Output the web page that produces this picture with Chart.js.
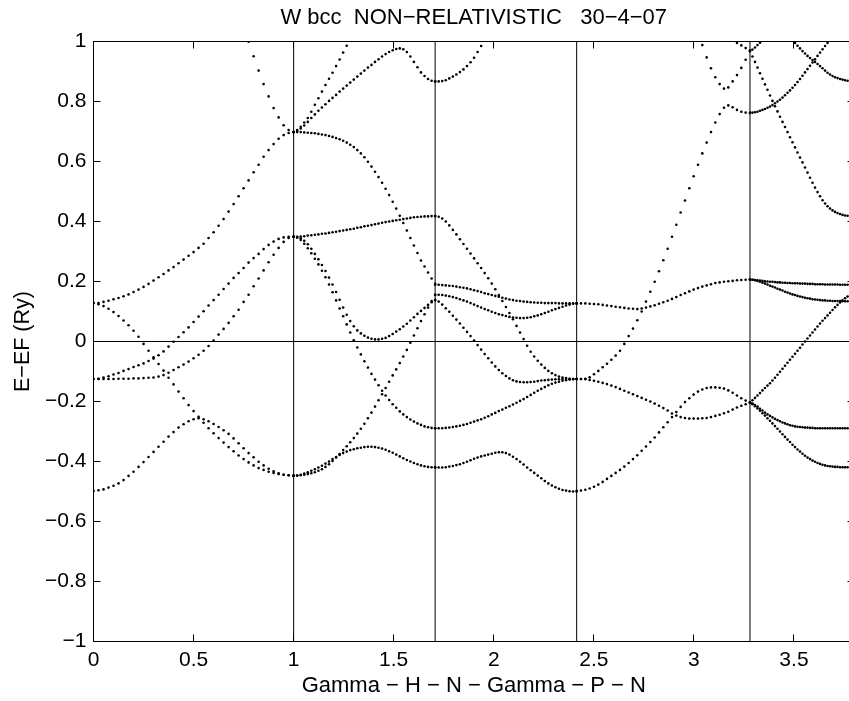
<!DOCTYPE html>
<html>
<head>
<meta charset="utf-8">
<title>W bcc band structure</title>
<script src="https://cdn.jsdelivr.net/npm/chart.js@4.4.1/dist/chart.umd.min.js"></script>
<style>
  html, body { margin: 0; padding: 0; background: #fff; overflow: hidden; }
  /* the axes box runs a few pixels past the right edge, as in the original figure */
  #wrap { width: 849px; height: 701px; overflow: hidden; }
</style>
</head>
<body>
<div id="wrap"><canvas id="bandChart" width="855" height="701"></canvas></div>
<script>
// Path through the bcc zone: Gamma - H - N - Gamma - P - N (k in units of 2pi/a)
const symLabels = ["Gamma", "H", "N", "Gamma", "P", "N"];
const symPoints = [0, 1, 1.70711, 2.41421, 3.28024, 3.78024];
const kSteps = 40; // 41 k-points on each segment
const xMax = 3.8;

const xTicks = [0, 0.5, 1, 1.5, 2, 2.5, 3, 3.5];
const yTicks = [-1, -0.8, -0.6, -0.4, -0.2, 0, 0.2, 0.4, 0.6, 0.8, 1];

const chartTitle = "W bcc  NON\u2212RELATIVISTIC   30\u22124\u221207";
const xTitle = "Gamma \u2212 H \u2212 N \u2212 Gamma \u2212 P \u2212 N";
const yTitle = "E\u2212EF (Ry)";

// E - EF (Ry), one row per band, null = off the top
const bandsGH = [
  [-0.498, -0.496, -0.493, -0.487, -0.481, -0.473, -0.462, -0.448, -0.434, -0.418, -0.402, -0.385, -0.368, -0.351, -0.334, -0.317, -0.302, -0.287, -0.276, -0.266, -0.259, -0.256, -0.259, -0.266, -0.275, -0.285, -0.296, -0.308, -0.323, -0.339, -0.356, -0.372, -0.386, -0.401, -0.413, -0.424, -0.433, -0.439, -0.444, -0.446, -0.447],
  [0.128, 0.124, 0.118, 0.109, 0.098, 0.085, 0.070, 0.054, 0.036, 0.016, -0.008, -0.031, -0.053, -0.075, -0.097, -0.121, -0.143, -0.167, -0.189, -0.212, -0.232, -0.251, -0.271, -0.289, -0.306, -0.322, -0.337, -0.352, -0.366, -0.380, -0.392, -0.403, -0.413, -0.422, -0.428, -0.434, -0.438, -0.442, -0.444, -0.446, -0.447],
  [-0.125, -0.125, -0.125, -0.125, -0.125, -0.124, -0.124, -0.124, -0.123, -0.123, -0.122, -0.121, -0.120, -0.117, -0.112, -0.104, -0.095, -0.086, -0.077, -0.067, -0.056, -0.044, -0.031, -0.015, 0.003, 0.023, 0.042, 0.062, 0.084, 0.106, 0.132, 0.156, 0.184, 0.210, 0.237, 0.264, 0.289, 0.312, 0.332, 0.345, 0.349],
  [-0.125, -0.124, -0.120, -0.116, -0.110, -0.105, -0.098, -0.092, -0.085, -0.079, -0.073, -0.065, -0.057, -0.046, -0.033, -0.017, -0.001, 0.015, 0.031, 0.047, 0.065, 0.083, 0.101, 0.120, 0.138, 0.156, 0.175, 0.193, 0.212, 0.228, 0.245, 0.263, 0.278, 0.292, 0.308, 0.322, 0.333, 0.342, 0.347, 0.349, 0.349],
  [0.128, 0.128, 0.132, 0.136, 0.141, 0.145, 0.151, 0.157, 0.165, 0.173, 0.182, 0.192, 0.203, 0.214, 0.225, 0.237, 0.248, 0.261, 0.273, 0.286, 0.298, 0.312, 0.326, 0.345, 0.364, 0.386, 0.408, 0.433, 0.458, 0.484, 0.511, 0.537, 0.564, 0.589, 0.616, 0.638, 0.658, 0.676, 0.688, 0.695, 0.698],
  [null, null, null, null, null, null, null, null, null, null, null, null, null, null, null, null, null, null, null, null, null, null, null, null, null, null, null, null, null, null, null, 0.999, 0.951, 0.903, 0.858, 0.817, 0.778, 0.747, 0.721, 0.705, 0.698]
];

const bandsHN = [
  [0.349, 0.349, 0.350, 0.351, 0.353, 0.354, 0.356, 0.357, 0.359, 0.360, 0.362, 0.364, 0.366, 0.368, 0.370, 0.372, 0.374, 0.376, 0.379, 0.381, 0.384, 0.386, 0.388, 0.391, 0.393, 0.396, 0.398, 0.400, 0.402, 0.404, 0.406, 0.408, 0.410, 0.412, 0.414, 0.415, 0.416, 0.417, 0.417, 0.418, 0.418],
  [0.349, 0.348, 0.344, 0.336, 0.324, 0.309, 0.292, 0.274, 0.255, 0.235, 0.213, 0.190, 0.165, 0.139, 0.113, 0.089, 0.068, 0.051, 0.037, 0.027, 0.019, 0.013, 0.009, 0.007, 0.007, 0.009, 0.012, 0.018, 0.025, 0.033, 0.041, 0.050, 0.059, 0.070, 0.081, 0.092, 0.102, 0.112, 0.122, 0.131, 0.138],
  [0.349, 0.346, 0.338, 0.326, 0.311, 0.294, 0.276, 0.257, 0.236, 0.214, 0.190, 0.164, 0.137, 0.110, 0.084, 0.057, 0.030, 0.004, -0.020, -0.043, -0.066, -0.087, -0.108, -0.127, -0.146, -0.164, -0.180, -0.195, -0.209, -0.221, -0.233, -0.243, -0.252, -0.260, -0.267, -0.273, -0.278, -0.283, -0.286, -0.288, -0.289],
  [-0.448, -0.447, -0.446, -0.444, -0.442, -0.439, -0.436, -0.431, -0.426, -0.418, -0.409, -0.398, -0.387, -0.375, -0.362, -0.349, -0.336, -0.322, -0.307, -0.291, -0.274, -0.256, -0.237, -0.217, -0.196, -0.176, -0.155, -0.134, -0.113, -0.093, -0.072, -0.050, -0.028, -0.004, 0.020, 0.044, 0.068, 0.091, 0.113, 0.135, 0.155],
  [-0.448, -0.447, -0.444, -0.440, -0.436, -0.431, -0.426, -0.420, -0.414, -0.407, -0.400, -0.392, -0.385, -0.378, -0.372, -0.367, -0.362, -0.359, -0.356, -0.354, -0.352, -0.351, -0.351, -0.352, -0.354, -0.357, -0.361, -0.366, -0.371, -0.377, -0.383, -0.389, -0.395, -0.400, -0.405, -0.409, -0.413, -0.416, -0.418, -0.419, -0.419],
  [0.698, 0.698, 0.698, 0.697, 0.696, 0.695, 0.694, 0.692, 0.690, 0.688, 0.685, 0.682, 0.678, 0.674, 0.669, 0.663, 0.656, 0.648, 0.638, 0.627, 0.614, 0.599, 0.583, 0.566, 0.548, 0.529, 0.509, 0.488, 0.466, 0.443, 0.419, 0.395, 0.370, 0.345, 0.320, 0.295, 0.270, 0.250, 0.230, 0.210, 0.192],
  [0.698, 0.702, 0.710, 0.720, 0.732, 0.745, 0.757, 0.769, 0.780, 0.791, 0.802, 0.812, 0.822, 0.833, 0.843, 0.853, 0.863, 0.873, 0.883, 0.893, 0.903, 0.913, 0.922, 0.932, 0.941, 0.950, 0.958, 0.965, 0.971, 0.975, 0.977, 0.974, 0.965, 0.950, 0.932, 0.914, 0.897, 0.885, 0.875, 0.869, 0.867],
  [0.698, 0.705, 0.716, 0.730, 0.745, 0.766, 0.789, 0.811, 0.833, 0.855, 0.876, 0.896, 0.918, 0.940, 0.963, 0.986]
];

const bandsNG = [
  [0.189, 0.189, 0.188, 0.187, 0.186, 0.185, 0.183, 0.181, 0.179, 0.177, 0.174, 0.171, 0.168, 0.165, 0.161, 0.158, 0.155, 0.152, 0.149, 0.146, 0.143, 0.140, 0.138, 0.136, 0.135, 0.133, 0.132, 0.131, 0.130, 0.129, 0.129, 0.128, 0.128, 0.128, 0.128, 0.127, 0.127, 0.127, 0.127, 0.127, 0.127],
  [0.156, 0.156, 0.155, 0.153, 0.151, 0.148, 0.145, 0.141, 0.137, 0.133, 0.128, 0.123, 0.118, 0.113, 0.108, 0.104, 0.099, 0.095, 0.091, 0.088, 0.085, 0.082, 0.080, 0.079, 0.078, 0.078, 0.079, 0.081, 0.084, 0.087, 0.091, 0.095, 0.099, 0.104, 0.108, 0.112, 0.116, 0.120, 0.123, 0.126, 0.127],
  [0.138, 0.133, 0.123, 0.111, 0.099, 0.086, 0.073, 0.060, 0.046, 0.032, 0.018, 0.003, -0.012, -0.027, -0.042, -0.056, -0.070, -0.083, -0.095, -0.106, -0.115, -0.123, -0.129, -0.133, -0.135, -0.136, -0.136, -0.135, -0.134, -0.132, -0.130, -0.129, -0.128, -0.127, -0.126, -0.126, -0.125, -0.125, -0.125, -0.125, -0.125],
  [0.418, 0.416, 0.410, 0.400, 0.387, 0.372, 0.357, 0.341, 0.325, 0.309, 0.293, 0.277, 0.261, 0.245, 0.228, 0.211, 0.193, 0.174, 0.155, 0.135, 0.115, 0.095, 0.074, 0.052, 0.030, 0.008, -0.014, -0.034, -0.050, -0.064, -0.077, -0.088, -0.098, -0.106, -0.112, -0.117, -0.120, -0.122, -0.124, -0.125, -0.125],
  [-0.289, -0.289, -0.289, -0.288, -0.287, -0.285, -0.283, -0.281, -0.278, -0.275, -0.271, -0.267, -0.263, -0.259, -0.254, -0.249, -0.243, -0.238, -0.232, -0.227, -0.221, -0.216, -0.210, -0.204, -0.198, -0.192, -0.185, -0.178, -0.171, -0.164, -0.158, -0.152, -0.146, -0.141, -0.137, -0.134, -0.131, -0.129, -0.127, -0.126, -0.125],
  [-0.420, -0.420, -0.420, -0.419, -0.417, -0.415, -0.412, -0.409, -0.405, -0.401, -0.396, -0.391, -0.387, -0.383, -0.380, -0.377, -0.374, -0.371, -0.369, -0.369, -0.372, -0.377, -0.384, -0.392, -0.401, -0.410, -0.420, -0.429, -0.438, -0.447, -0.456, -0.465, -0.473, -0.480, -0.486, -0.491, -0.495, -0.497, -0.499, -0.500, -0.500],
  [0.867, 0.867, 0.868, 0.871, 0.877, 0.883, 0.890, 0.898, 0.907, 0.918, 0.931, 0.946, 0.965, 0.985]
];

const bandsGP = [
  [0.127, 0.127, 0.127, 0.126, 0.125, 0.124, 0.122, 0.120, 0.118, 0.116, 0.114, 0.112, 0.110, 0.109, 0.108, 0.110, 0.113, 0.117, 0.121, 0.126, 0.131, 0.136, 0.142, 0.148, 0.155, 0.161, 0.167, 0.173, 0.178, 0.183, 0.187, 0.191, 0.195, 0.197, 0.199, 0.201, 0.202, 0.204, 0.205, 0.206, 0.207],
  [-0.125, -0.125, -0.124, -0.119, -0.109, -0.098, -0.086, -0.074, -0.061, -0.047, -0.031, -0.008, 0.018, 0.043, 0.071, 0.100, 0.133, 0.166, 0.199, 0.234, 0.271, 0.309, 0.349, 0.389, 0.430, 0.470, 0.511, 0.551, 0.589, 0.627, 0.663, 0.698, 0.730, 0.758, 0.779, 0.787, 0.781, 0.772, 0.766, 0.763, 0.762],
  [-0.125, -0.125, -0.126, -0.128, -0.131, -0.134, -0.138, -0.142, -0.147, -0.152, -0.158, -0.164, -0.170, -0.176, -0.182, -0.188, -0.194, -0.200, -0.207, -0.214, -0.222, -0.230, -0.240, -0.247, -0.252, -0.255, -0.257, -0.257, -0.257, -0.256, -0.255, -0.252, -0.248, -0.244, -0.239, -0.234, -0.227, -0.220, -0.214, -0.209, -0.204],
  [-0.498, -0.497, -0.494, -0.490, -0.484, -0.477, -0.468, -0.458, -0.448, -0.438, -0.428, -0.417, -0.405, -0.392, -0.379, -0.364, -0.350, -0.335, -0.320, -0.303, -0.286, -0.269, -0.252, -0.235, -0.218, -0.202, -0.189, -0.177, -0.167, -0.160, -0.155, -0.153, -0.153, -0.154, -0.157, -0.163, -0.171, -0.180, -0.189, -0.197, -0.204],
  [null, null, null, null, null, null, null, null, null, null, null, null, null, null, null, null, null, null, null, null, null, null, null, null, null, null, null, null, null, 0.988, 0.947, 0.911, 0.881, 0.858, 0.843, 0.847, 0.867, 0.888, 0.912, 0.939, 0.968],
  [null, null, null, null, null, null, null, null, null, null, null, null, null, null, null, null, null, null, null, null, null, null, null, null, null, null, null, null, null, null, null, null, null, null, null, null, null, 0.995, 0.987, 0.978, 0.970]
];

const bandsPN = [
  [0.207, 0.206, 0.205, 0.204, 0.203, 0.202, 0.201, 0.200, 0.199, 0.199, 0.198, 0.197, 0.197, 0.196, 0.196, 0.195, 0.195, 0.194, 0.194, 0.194, 0.193, 0.193, 0.193, 0.192, 0.192, 0.192, 0.191, 0.191, 0.191, 0.191, 0.190, 0.190, 0.190, 0.190, 0.190, 0.190, 0.189, 0.189, 0.189, 0.189, 0.189],
  [0.207, 0.206, 0.204, 0.202, 0.199, 0.196, 0.193, 0.190, 0.186, 0.183, 0.180, 0.176, 0.173, 0.170, 0.166, 0.163, 0.160, 0.157, 0.155, 0.152, 0.150, 0.148, 0.146, 0.144, 0.143, 0.141, 0.140, 0.139, 0.138, 0.137, 0.137, 0.136, 0.136, 0.135, 0.135, 0.135, 0.135, 0.134, 0.134, 0.134, 0.134],
  [-0.203, -0.196, -0.188, -0.180, -0.172, -0.163, -0.155, -0.147, -0.139, -0.130, -0.121, -0.111, -0.101, -0.091, -0.081, -0.071, -0.061, -0.051, -0.041, -0.031, -0.021, -0.010, 0.000, 0.010, 0.020, 0.030, 0.040, 0.050, 0.060, 0.069, 0.078, 0.087, 0.096, 0.105, 0.114, 0.122, 0.130, 0.137, 0.144, 0.150, 0.155],
  [-0.203, -0.207, -0.212, -0.217, -0.224, -0.230, -0.237, -0.243, -0.248, -0.253, -0.258, -0.262, -0.266, -0.270, -0.273, -0.276, -0.279, -0.281, -0.283, -0.284, -0.285, -0.286, -0.287, -0.287, -0.288, -0.288, -0.289, -0.289, -0.289, -0.289, -0.289, -0.289, -0.289, -0.289, -0.289, -0.289, -0.289, -0.289, -0.289, -0.289, -0.289],
  [-0.203, -0.209, -0.216, -0.223, -0.231, -0.239, -0.247, -0.256, -0.264, -0.273, -0.282, -0.291, -0.300, -0.309, -0.318, -0.327, -0.335, -0.344, -0.352, -0.360, -0.367, -0.374, -0.381, -0.387, -0.392, -0.397, -0.401, -0.405, -0.408, -0.411, -0.413, -0.415, -0.416, -0.417, -0.418, -0.418, -0.419, -0.419, -0.419, -0.419, -0.419],
  [0.968, 0.950, 0.932, 0.913, 0.894, 0.876, 0.857, 0.839, 0.820, 0.802, 0.784, 0.767, 0.749, 0.732, 0.715, 0.698, 0.681, 0.664, 0.647, 0.630, 0.613, 0.597, 0.580, 0.563, 0.546, 0.529, 0.513, 0.498, 0.484, 0.471, 0.460, 0.451, 0.443, 0.437, 0.432, 0.428, 0.425, 0.422, 0.420, 0.419, 0.418],
  [0.762, 0.763, 0.764, 0.766, 0.769, 0.772, 0.775, 0.779, 0.783, 0.788, 0.794, 0.800, 0.806, 0.813, 0.821, 0.829, 0.837, 0.846, 0.855, 0.865, 0.875, 0.886, 0.897, 0.908, 0.919, 0.930, 0.941, 0.952, 0.963, 0.974, 0.985, 0.995],
  [null, null, null, null, null, null, null, null, null, null, null, null, null, null, null, null, null, null, 0.995, 0.986, 0.977, 0.968, 0.960, 0.952, 0.945, 0.938, 0.932, 0.925, 0.918, 0.911, 0.903, 0.896, 0.890, 0.885, 0.881, 0.878, 0.875, 0.873, 0.871, 0.869, 0.867],
  [0.968, 0.973, 0.980, 0.988, 0.996]
];

const segmentBands = [bandsGH, bandsHN, bandsNG, bandsGP, bandsPN];

const fontFamily = "'Liberation Sans', Arial, Helvetica, sans-serif";
const tickFont = { family: fontFamily, size: 21 };
const titleFont = { family: fontFamily, size: 22 };

// turn the band rows of one segment into scatter points along the path
function segmentPoints(bands, x0, x1) {
    const pts = [];
    bands.forEach((band) => {
        band.forEach((e, i) => {
            if (e === null) return;
            pts.push({ x: x0 + ((x1 - x0) * i) / kSteps, y: e });
        });
    });
    return pts;
}

// tick labels like MATLAB: real minus sign, no trailing zeros
function fmtTick(v) {
    const r = Math.round(v * 10) / 10;
    return String(r).replace("-", "\u2212");
}

const datasets = segmentBands.map((bands, s) => ({
    label: symLabels[s] + "-" + symLabels[s + 1],
    data: segmentPoints(bands, symPoints[s], symPoints[s + 1]),
    pointRadius: 1.3,
    pointHoverRadius: 0,
    pointStyle: "circle",
    pointBackgroundColor: "#000",
    pointBorderWidth: 0,
    showLine: false,
    order: 1,
}));

// thin lines at the inner symmetry points and at the Fermi level
symPoints.slice(1, -1).forEach((k) => {
    datasets.push({
        type: "line",
        data: [{ x: k, y: -1 }, { x: k, y: 1 }],
        borderColor: "#000",
        borderWidth: 1,
        pointRadius: 0,
        pointHoverRadius: 0,
        order: 2,
    });
});
datasets.push({
    type: "line",
    data: [{ x: 0, y: 0 }, { x: xMax, y: 0 }],
    borderColor: "#000",
    borderWidth: 1,
    pointRadius: 0,
    pointHoverRadius: 0,
    order: 2,
});

// box round the plot with inward ticks on all four sides
const frameTicks = {
    id: "frameTicks",
    afterDraw(chart) {
        const { ctx, chartArea: a } = chart;
        const x = chart.scales.x;
        const y = chart.scales.y;
        const L = Math.floor(a.left) + 0.5;
        const R = Math.floor(a.right) + 0.5;
        const T = Math.floor(a.top) + 0.5;
        const B = Math.floor(a.bottom) + 0.5;
        ctx.save();
        ctx.strokeStyle = "#000";
        ctx.lineWidth = 1;
        ctx.beginPath();
        ctx.rect(L, T, R - L, B - T);
        xTicks.forEach((v) => {
            const p = Math.floor(x.getPixelForValue(v)) + 0.5;
            ctx.moveTo(p, B);
            ctx.lineTo(p, B - 7);
            ctx.moveTo(p, T);
            ctx.lineTo(p, T + 7);
        });
        yTicks.forEach((v) => {
            const p = Math.floor(y.getPixelForValue(v)) + 0.5;
            ctx.moveTo(L, p);
            ctx.lineTo(L + 7, p);
            ctx.moveTo(R, p);
            ctx.lineTo(R - 7, p);
        });
        ctx.stroke();
        ctx.restore();
    },
};

const ctx = document.getElementById("bandChart").getContext("2d");

new Chart(ctx, {
    type: "scatter",
    data: { datasets },
    options: {
        responsive: false,
        animation: false,
        devicePixelRatio: 1,
        events: [],
        layout: { padding: { left: 0, right: 1, top: 0, bottom: 0 }, autoPadding: false },
        plugins: {
            legend: { display: false },
            tooltip: { enabled: false },
            title: { display: false },
        },
        scales: {
            x: {
                type: "linear",
                position: "bottom",
                min: 0,
                max: xMax,
                afterFit: (s) => { s.height = 59.5; },
                grid: { display: false, drawTicks: false },
                border: { display: false },
                ticks: {
                    stepSize: 0.5,
                    includeBounds: false,
                    autoSkip: false,
                    maxRotation: 0,
                    padding: 6,
                    color: "#000",
                    font: tickFont,
                    callback: fmtTick,
                },
                title: { display: true, text: xTitle, color: "#000", font: titleFont, padding: { top: 0, bottom: 2 } },
            },
            top: {
                type: "linear",
                position: "top",
                min: 0,
                max: xMax,
                afterFit: (s) => { s.height = 41.5; },
                grid: { display: false, drawTicks: false },
                border: { display: false },
                ticks: { display: false },
                title: { display: true, text: chartTitle, color: "#000", font: titleFont, padding: { top: 4.5, bottom: 0 } },
            },
            y: {
                type: "linear",
                min: -1,
                max: 1,
                afterFit: (s) => { s.width = 93.5; },
                grid: { display: false, drawTicks: false },
                border: { display: false },
                ticks: {
                    stepSize: 0.2,
                    padding: 7,
                    color: "#000",
                    font: tickFont,
                    callback: fmtTick,
                },
                title: { display: true, text: yTitle, color: "#000", font: { family: fontFamily, size: 21.5 }, padding: { top: 10, bottom: 0 } },
            },
        },
    },
    plugins: [frameTicks],
});
</script>
</body>
</html>
